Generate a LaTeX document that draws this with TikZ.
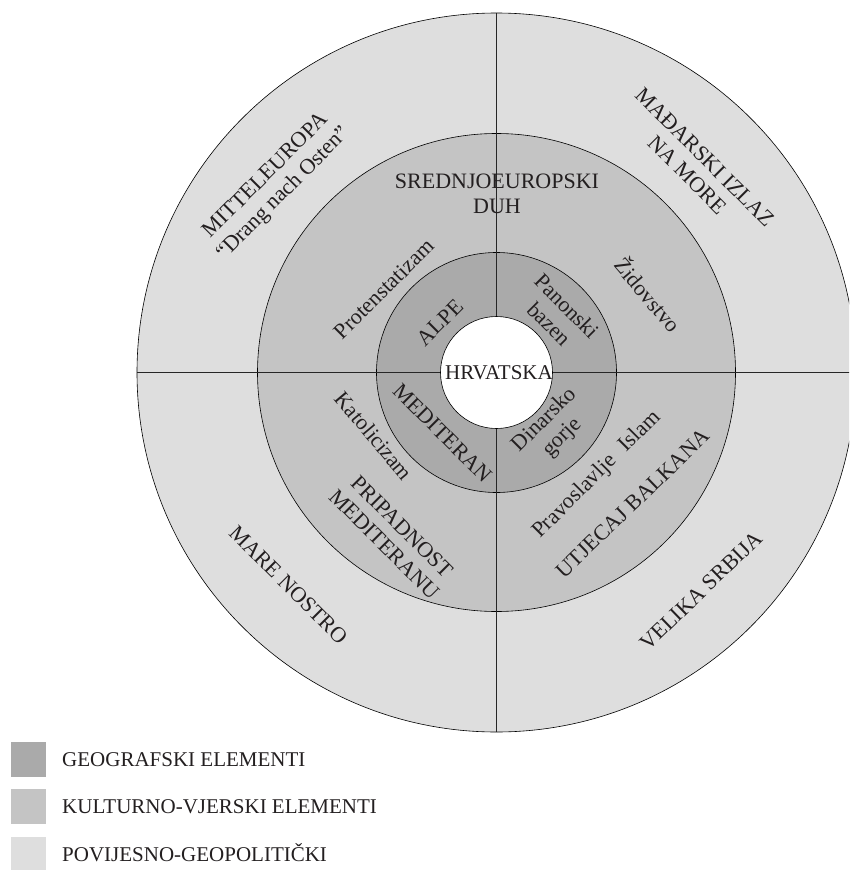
\documentclass[tikz,border=0pt]{standalone}
\usepackage{fontspec}
\setmainfont{Liberation Serif}
\definecolor{geo}{RGB}{170,170,170}
\definecolor{cult}{RGB}{196,196,196}
\definecolor{hist}{RGB}{222,222,222}
\definecolor{txt}{RGB}{35,31,32}
\begin{document}
\begin{tikzpicture}[x=1pt,y=-1pt,
  lbl/.style={inner sep=0pt, align=center, text=txt, font=\fontsize{22}{25}\selectfont},
  leg/.style={inner sep=0pt, anchor=base west, text=txt, font=\fontsize{21}{24}\selectfont},
  ringline/.style={draw=black, line width=0.6pt},
  crossline/.style={draw=black!85, line width=0.9pt},
  sq/.style={draw=none, minimum size=35pt, inner sep=0pt}]
\useasboundingbox (0,0) rectangle (849,870);
\clip (0,0) rectangle (849,870);
\coordinate (C) at (496.5,372.5);
% rings
\path[ringline, fill=hist] (C) circle[radius=359.5pt];
\path[ringline, fill=cult] (C) circle[radius=239pt];
\path[ringline, fill=geo] (C) circle[radius=120pt];
% cross lines
\coordinate (top) at (496.5,13);
\coordinate (bot) at (496.5,732);
\coordinate (lft) at (137,372.5);
\coordinate (rgt) at (856,372.5);
\draw[crossline] (top) -- (bot);
\draw[crossline] (lft) -- (rgt);
% centre
\node[circle, draw=black, line width=0.6pt, fill=white, minimum size=112pt, inner sep=0pt] (hrv) at (C) {};
\node[lbl, font=\fontsize{21}{24}\selectfont] (hrvtext) at (499,373) {HRVATSKA};
% outer ring labels
\node[lbl, rotate=45] (mittel) at (275,185) {MITTELEUROPA\\“Drang nach Osten”};
\node[lbl, rotate=-45] (madjar) at (696,166) {MAĐARSKI IZLAZ\\NA MORE};
\node[lbl, rotate=-45] (mare) at (288.4,584.8) {MARE NOSTRO};
\node[lbl, rotate=44] (velika) at (701,591) {VELIKA SRBIJA};
% middle ring labels
\node[lbl] (sredn) at (497,194) {SREDNJOEUROPSKI\\DUH};
\node[lbl, rotate=45] (protest) at (384,289) {Protenstatizam};
\node[lbl, rotate=-50] (zidov) at (649,294) {Židovstvo};
\node[lbl, rotate=-50] (katol) at (374,436) {Katolicizam};
\node[lbl, rotate=-45] (pripad) at (393,535.5) {PRIPADNOST\\MEDITERANU};
\node[lbl, rotate=45] (pravo) at (597,474.7) {Pravoslavlje\hspace{0.6em}Islam};
\node[lbl, rotate=44] (utjec) at (632.7,503.4) {UTJECAJ BALKANA};
% inner ring labels
\node[lbl, rotate=45] (alpe) at (440,322.5) {ALPE};
\node[lbl, rotate=-45] (panon) at (558,315) {Panonski\\bazen};
\node[lbl, rotate=-45] (medit) at (442.5,433) {MEDITERAN};
\node[lbl, rotate=45] (dinar) at (553.5,429) {Dinarsko\\gorje};
% legend
\node[sq, fill=geo] (sqgeo) at (28.5,759.5) {};
\node[sq, fill=cult] (sqcult) at (28.5,806.5) {};
\node[sq, fill=hist] (sqhist) at (28.5,854.5) {};
\node[leg] (leggeo) at (62,766.5) {GEOGRAFSKI ELEMENTI};
\node[leg] (legcult) at (62,813.5) {KULTURNO-VJERSKI ELEMENTI};
\node[leg] (leghist) at (62,861) {POVIJESNO-GEOPOLITIČKI};
\end{tikzpicture}
\end{document}
